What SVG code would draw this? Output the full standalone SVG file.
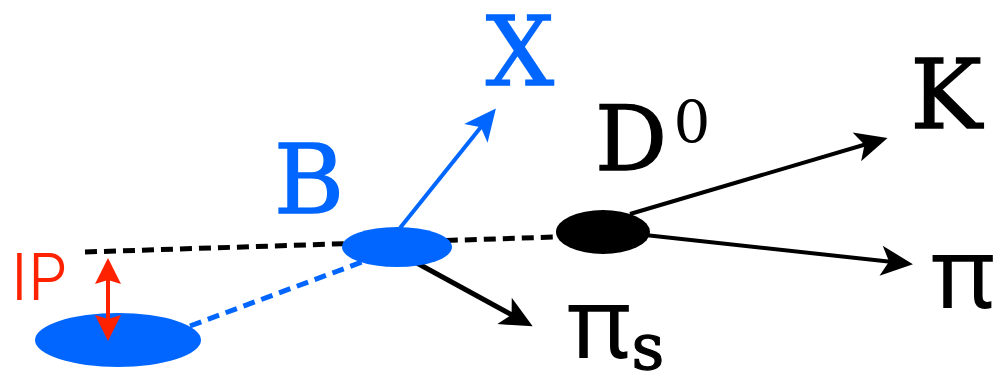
<svg xmlns="http://www.w3.org/2000/svg" width="995" height="372" viewBox="0 0 995 372">
<defs>
<marker id="ak" viewBox="0 0 10 10" refX="9" refY="5" markerWidth="10" markerHeight="10" markerUnits="userSpaceOnUse" orient="auto" overflow="visible">
<path d="M-12,-10 L20,5 L-12,20 L-4,5 Z" fill="#000"/>
</marker>
<marker id="ab" viewBox="0 0 10 10" refX="9" refY="5" markerWidth="10" markerHeight="10" markerUnits="userSpaceOnUse" orient="auto" overflow="visible">
<path d="M-12,-10 L20,5 L-12,20 L-4,5 Z" fill="#0066ff"/>
</marker>
<style>
.serif{font-family:"DejaVu Serif","Liberation Serif",serif;stroke-width:1.3;}
.pi{font-family:"Noto Sans","Open Sans",sans-serif;fill:#000;}
.blue{fill:#0066ff;stroke:#0066ff;}
.blk{fill:#000;stroke:#000;}
.nos{stroke:none;}
</style>
</defs>
<g id="connectors">
<line x1="85" y1="252" x2="555" y2="237" stroke="#000" stroke-width="5" stroke-dasharray="12 7"/>
<line x1="190" y1="326" x2="362" y2="262" stroke="#0066ff" stroke-width="5" stroke-dasharray="12 7"/>
<line x1="400" y1="228" x2="489" y2="117" stroke="#0066ff" stroke-width="4" marker-end="url(#ab)"/>
<line x1="415" y1="262" x2="523" y2="321" stroke="#000" stroke-width="5" marker-end="url(#ak)"/>
<line x1="630" y1="214" x2="877" y2="141" stroke="#000" stroke-width="4" marker-end="url(#ak)"/>
<line x1="645" y1="235" x2="902" y2="263" stroke="#000" stroke-width="4" marker-end="url(#ak)"/>
<g id="ip-arrow">
<line x1="108" y1="280" x2="108" y2="320" stroke="#ff2200" stroke-width="4"/>
<path d="M108,258 L121,284 L108,280 L95,284 Z" fill="#ff2200"/>
</g>
</g>
<g id="pv">
<ellipse cx="118" cy="340" rx="83" ry="27" fill="#0066ff"/>
</g>
<g id="ip-arrow-front">
<line x1="108" y1="300" x2="108" y2="322" stroke="#ff2200" stroke-width="4"/>
<path d="M108,341 L121,315 L108,319 L95,315 Z" fill="#ff2200"/>
</g>
<g id="B">
<ellipse cx="397" cy="247" rx="55" ry="20" fill="#0066ff"/>
<text x="309" y="213" class="serif blue" font-size="96" text-anchor="middle">B</text>
</g>
<g id="D0">
<ellipse cx="603" cy="232" rx="47" ry="22" fill="#000"/>
<text x="631" y="170" class="serif blk" font-size="90" text-anchor="middle">D</text>
<text x="692" y="142" class="serif blk nos" font-size="58" text-anchor="middle">0</text>
</g>
<g id="X">
<text x="520" y="85" class="serif blue" font-size="96" text-anchor="middle">X</text>
</g>
<g id="K">
<text x="946" y="128" class="serif blk" font-size="96" text-anchor="middle">K</text>
</g>
<g id="pi">
<text x="963" y="308" class="pi" font-size="98" text-anchor="middle">π</text>
</g>
<g id="pis">
<text x="599" y="358" class="pi" font-size="98" text-anchor="middle">π</text>
<text x="648" y="369" class="serif blk" font-size="64" text-anchor="middle">s</text>
</g>
<g id="IP">
<text x="11" y="300" font-family="Inter, 'Liberation Sans', sans-serif" font-weight="300" fill="#ff2200" font-size="64">IP</text>
</g>
</svg>
